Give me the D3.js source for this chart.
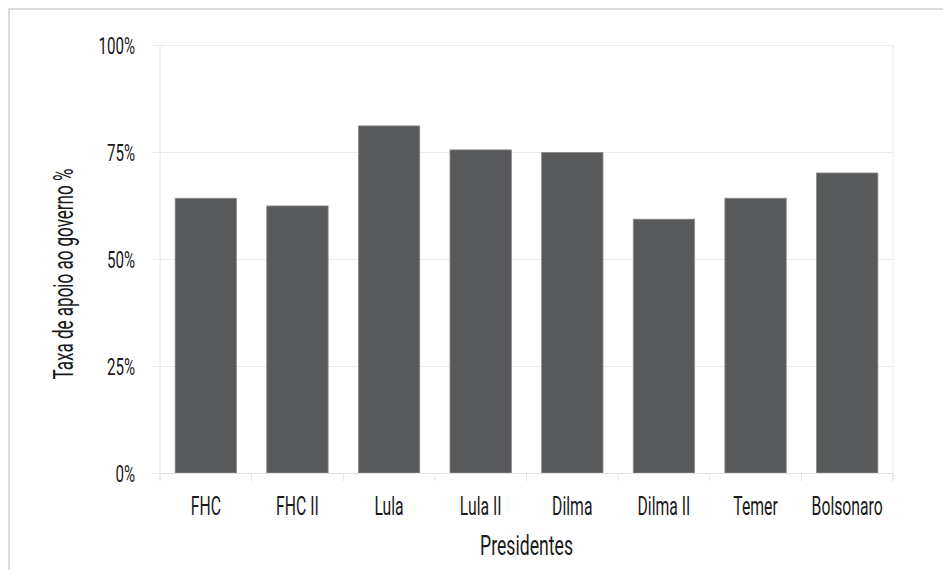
<!DOCTYPE html>
<html>
<head>
    <meta charset="utf-8"/>
    <title>apoio ao governo</title>
    <script src="https://d3js.org/d3.v7.min.js"></script>
    <style>
        body { margin: 0; background: #fff; }
        text { font-family: "Liberation Sans Narrow", "Roboto", sans-serif; font-weight: 400; fill: #1a1a1a; }
    </style>
</head>
<body>
    <div id="chart"></div>
    <script>
        // data
        var presidentes = ["FHC", "FHC II", "Lula", "Lula II", "Dilma", "Dilma II", "Temer", "Bolsonaro"];
        var apoio = [64.2, 62.4, 81.1, 75.5, 74.9, 59.3, 64.2, 70.1];
        var yTicks = [0, 25, 50, 75, 100];

        var width = 943, height = 570;
        var margin = {top: 45, right: 50, bottom: 97, left: 160};
        var squeeze = 0.63; // the original font is a very condensed one

        var svg = d3.select("#chart")
                    .append("svg")
                    .attr("width", width)
                    .attr("height", height);

        // outer frame (only top and left edges are visible)
        svg.append("rect")
           .attr("x", 9).attr("y", 9)
           .attr("width", 2000).attr("height", 2000)
           .attr("fill", "none")
           .attr("stroke", "#cfcfcf")
           .attr("stroke-width", 1.5);

        var x = d3.scaleBand()
                  .domain(presidentes)
                  .range([margin.left, width - margin.right])
                  .paddingInner(0.33)
                  .paddingOuter(0.165);

        var y = d3.scaleLinear()
                  .domain([0, 100])
                  .range([height - margin.bottom, margin.top]);

        var x0 = margin.left, x1 = width - margin.right;
        var y0 = y(0);

        // grid lines + left ticks
        svg.append("g")
           .attr("transform", "translate(" + x0 + ",0)")
           .call(d3.axisLeft(y).tickValues(yTicks).tickSize(8).tickPadding(17)
                 .tickFormat(function(d) { return d + "%"; }))
           .call(function(g) {
               g.select(".domain").remove();
               g.selectAll(".tick line").attr("stroke", "#ebebeb")
                .attr("x2", x1 - x0).attr("x1", -8);
               g.selectAll(".tick text").attr("font-size", 24).attr("dy", "0.36em");
           });

        // vertical frame lines of plot
        [x0, x1].forEach(function(px) {
            svg.append("line")
               .attr("x1", px).attr("x2", px)
               .attr("y1", margin.top).attr("y2", y0 + 8)
               .attr("stroke", "#e8e8e8");
        });

        // bars
        svg.selectAll(".bar")
           .data(presidentes)
           .enter()
           .append("rect")
           .attr("class", "bar")
           .attr("x", function(d) { return x(d); })
           .attr("y", function(d, i) { return y(apoio[i]); })
           .attr("width", x.bandwidth())
           .attr("height", function(d, i) { return y0 - y(apoio[i]); })
           .attr("fill", "#58595b")
           .attr("stroke", "#8e8e8e")
           .attr("stroke-width", 0.8);

        // x axis: labels centred, ticks on band edges
        svg.append("g")
           .attr("transform", "translate(0," + y0 + ")")
           .call(d3.axisBottom(x).tickSize(0).tickPadding(24))
           .call(function(g) {
               g.select(".domain").attr("stroke", "#e3e3e3");
               g.selectAll(".tick text").attr("font-size", 25);
           });

        var edges = d3.range(presidentes.length + 1).map(function(i) {
            return x0 + i * x.step();
        });
        svg.selectAll(".edge")
           .data(edges)
           .enter()
           .append("line")
           .attr("class", "edge")
           .attr("x1", function(d) { return d; })
           .attr("x2", function(d) { return d; })
           .attr("y1", y0)
           .attr("y2", y0 + 8)
           .attr("stroke", "#e3e3e3");

        // axis titles
        svg.append("text")
           .attr("x", (x0 + x1) / 2)
           .attr("y", 555)
           .attr("text-anchor", "middle")
           .attr("font-size", 28)
           .text("Presidentes");

        svg.append("text")
           .attr("transform", "translate(73,274) rotate(-90)")
           .attr("text-anchor", "middle")
           .attr("font-size", 27)
           .text("Taxa de apoio ao governo %");

        // condense every label
        svg.selectAll("text").each(function() {
            var len = this.getComputedTextLength();
            d3.select(this)
              .attr("textLength", len * squeeze)
              .attr("lengthAdjust", "spacingAndGlyphs");
        });
    </script>
</body>
</html>
